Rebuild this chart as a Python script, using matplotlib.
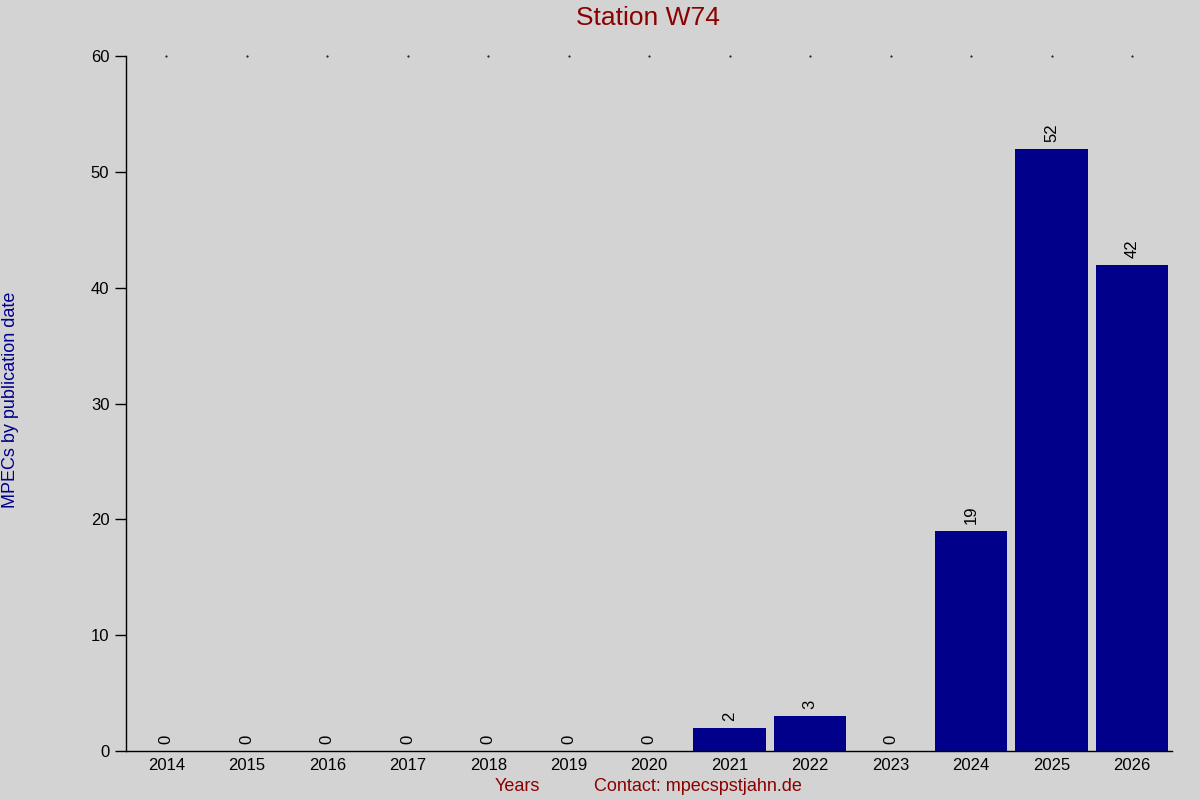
import matplotlib
matplotlib.use("Agg")
import matplotlib.pyplot as plt

# Data

years = ["2014", "2015", "2016", "2017", "2018", "2019", "2020",
         "2021", "2022", "2023", "2024", "2025", "2026"]

mpecs = [0, 0, 0, 0, 0, 0, 0, 2, 3, 0, 19, 52, 42]

y_ticks = [0, 10, 20, 30, 40, 50, 60]

plt.rcParams["font.family"] = ["Liberation Sans", "DejaVu Sans"]

fig = plt.figure(figsize=(12, 8), dpi=100, facecolor="#d3d3d3")

ax = fig.add_axes([0.105, 0.06125, 0.872, 0.86875])
ax.set_facecolor("#d3d3d3")

x = list(range(len(years)))

ax.bar(x, mpecs, width=0.9, color="#00008b")

# Value labels above bars

for xi, v in zip(x, mpecs):
    ax.annotate(
        str(v),
        (xi, v),
        xytext=(0, 5),
        textcoords="offset points",
        rotation=90,
        ha="center",
        va="bottom",
        fontsize=12,
    )

ax.set_xlim(-0.5, len(years) - 0.5)
ax.set_ylim(0, 60)

ax.set_xticks(x)
ax.set_xticklabels(years, fontsize=12)
ax.set_yticks(y_ticks)
ax.set_yticklabels([str(t) for t in y_ticks], fontsize=12)

ax.tick_params(axis="x", length=0, pad=5)
ax.tick_params(axis="y", length=8, width=1, direction="out", pad=4)

# Tiny dots at top for x positions

ax.plot(x, [60] * len(x), linestyle="none", marker=".",
        markersize=1, color="black", clip_on=False)

for side in ["top", "right"]:
    ax.spines[side].set_visible(False)

ax.spines["left"].set_linewidth(1)
ax.spines["bottom"].set_linewidth(1)

fig.text(0.54, 0.978, "Station W74", color="#8b0000",
         fontsize=19, ha="center", va="center")

fig.text(0.009, 0.5, "MPECs by publication date", color="#00008b",
         fontsize=13, rotation=90, ha="center", va="center")

fig.text(0.431, 0.017, "Years", color="#8b0000",
         fontsize=13, ha="center", va="center")

fig.text(0.582, 0.017, "Contact: mpecspstjahn.de", color="#8b0000",
         fontsize=13, ha="center", va="center")

plt.savefig("out.png", dpi=100, facecolor=fig.get_facecolor())

plt.close()
